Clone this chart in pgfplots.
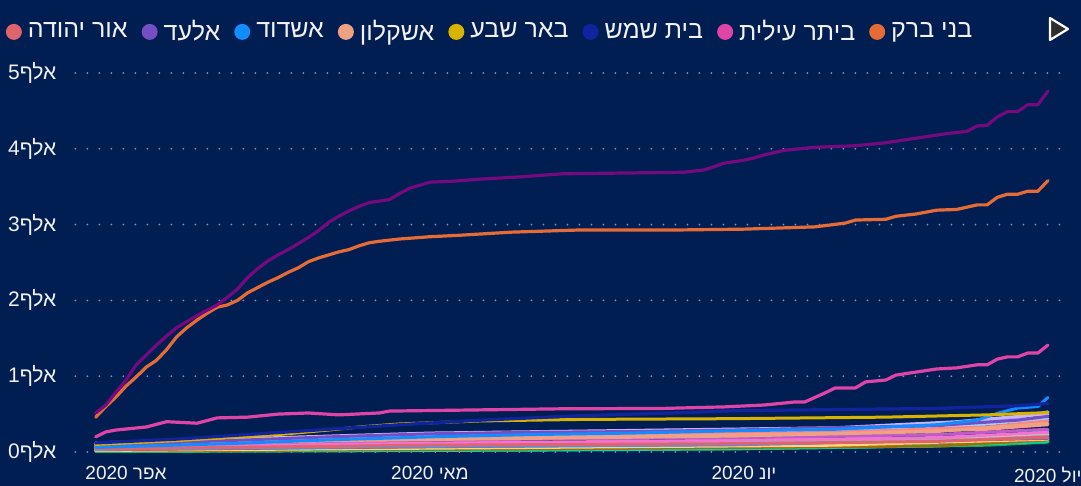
\documentclass[border=0pt]{standalone}
\usepackage{pgfplots}
\pgfplotsset{compat=1.18}
\usepackage{fontspec}
\setmainfont{Liberation Sans}
\newfontfamily\heb[Script=Hebrew]{Liberation Sans}
\TeXXeTstate=1
\newcommand{\R}[1]{{\heb\beginR #1\endR}}
\definecolor{bg}{HTML}{011E52}
\definecolor{gridc}{HTML}{7F8FB0}
\definecolor{txt}{HTML}{F2F2F2}
\definecolor{cJer}{HTML}{740A7E}
\definecolor{cBB}{HTML}{E66C37}
\definecolor{cBI}{HTML}{E044A7}
\definecolor{cBS}{HTML}{12239E}
\definecolor{cBeer}{HTML}{D9B300}
\definecolor{cAsk}{HTML}{EDA283}
\definecolor{cAsd}{HTML}{118DFF}
\definecolor{cEl}{HTML}{744EC2}
\definecolor{cOr}{HTML}{E0646E}
\begin{document}
\begin{tikzpicture}
\fill[bg] (-37.7pt,-13.2pt) rectangle (502.8pt,229.8pt);
\path[use as bounding box] (-37.7pt,-13.2pt) rectangle (502.8pt,229.8pt);
\begin{axis}[
  at={(0,0)}, anchor=south west,
  scale only axis, width=496.4pt, height=197.1pt,
  xmin=-5, xmax=93, ymin=-100, ymax=5100,
  axis line style={draw=none}, tick style={draw=none},
  ymajorgrids, xmajorgrids=false,
  major grid style={draw=gridc, line width=1pt, dash pattern=on 0pt off 6pt, line cap=round},
  ytick={0,1000,2000,3000,4000,5000},
  yticklabels={0\R{אלף},1\R{אלף},2\R{אלף},3\R{אלף},4\R{אלף},5\R{אלף}},
  xtick={0,30,61,91},
  xticklabels={2020 \R{אפר},2020 \R{מאי},2020 \R{יונ},2020 \R{יול}},
  xticklabel style={font=\fontsize{9.5}{11}\selectfont, text=txt},
  yticklabel style={font=\fontsize{10.5}{12}\selectfont, text=txt, xshift=-6pt},
  every axis plot/.append style={line join=round, line cap=round, mark=none},
  legend columns=8,
  legend style={draw=none, fill=none, text=txt, font=\fontsize{12.5}{14}\selectfont,
    at={(axis description cs:0.914,1.085)}, anchor=east,
    /tikz/every even column/.append style={column sep=5pt},
    /tikz/every odd column/.append style={column sep=1pt}},
  legend image code/.code={\fill[#1] (0pt,0pt) circle (4pt);},
]
% background bundle of other towns
\addplot[color={rgb,255:red,91;green,214;blue,103}, line width=1.5pt, forget plot] coordinates {(-3,10) (20,25) (50,40) (70,60) (85,100) (91,150)};
\addplot[color={rgb,255:red,26;green,171;blue,64}, line width=1.5pt, forget plot] coordinates {(-3,5) (30,20) (60,40) (85,90) (91,130)};
\addplot[color={rgb,255:red,0;green,219;blue,188}, line width=1.5pt, forget plot] coordinates {(-3,15) (25,20) (40,25) (60,45) (80,80) (91,140)};
\addplot[color={rgb,255:red,153;green,112;blue,10}, line width=1.5pt, forget plot] coordinates {(-3,15) (40,40) (80,80) (91,160)};
\addplot[color={rgb,255:red,255;green,210;blue,128}, line width=1.5pt, forget plot] coordinates {(-3,20) (40,60) (70,90) (91,170)};
\addplot[color={rgb,255:red,0;green,219;blue,188}, line width=1.5pt, forget plot] coordinates {(-3,30) (20,60) (50,90) (80,150) (91,240)};
\addplot[color={rgb,255:red,214;green,69;blue,80}, line width=1.5pt, forget plot] coordinates {(-3,30) (30,70) (60,100) (91,180)};
\addplot[color={rgb,255:red,64;green,146;blue,255}, line width=1.5pt, forget plot] coordinates {(-3,35) (30,75) (60,95) (91,190)};
\addplot[color={rgb,255:red,21;green,198;blue,244}, line width=1.5pt, forget plot] coordinates {(-3,40) (30,90) (60,120) (85,180) (91,280)};
\addplot[color={rgb,255:red,200;green,200;blue,200}, line width=1.5pt, forget plot] coordinates {(-3,50) (30,110) (60,140) (85,190) (91,230)};
\addplot[color={rgb,255:red,170;green,170;blue,185}, line width=1.5pt, forget plot] coordinates {(-3,45) (30,100) (60,125) (85,170) (91,210)};
\addplot[color={rgb,255:red,244;green,114;blue,208}, line width=1.5pt, forget plot] coordinates {(-3,60) (20,110) (50,140) (80,190) (91,260)};
\addplot[color={rgb,255:red,190;green,93;blue,201}, line width=1.5pt, forget plot] coordinates {(-3,80) (20,140) (40,170) (60,190) (80,230) (91,300)};
\addplot[color={rgb,255:red,160;green,209;blue,255}, line width=1.5pt, forget plot] coordinates {(-3,90) (30,180) (60,250) (80,310) (91,440)};
\addplot[color={rgb,255:red,255;green,128;blue,128}, line width=1.5pt, forget plot] coordinates {(-3,100) (15,170) (30,210) (50,230) (70,260) (85,330) (91,410)};
\addplot[color={rgb,255:red,255;green,150;blue,140}, line width=1.5pt, forget plot] coordinates {(-3,95) (15,160) (30,195) (50,215) (70,245) (85,300) (91,360)};
\addplot[color={rgb,255:red,181;green,161;blue,255}, line width=1.5pt, forget plot] coordinates {(-3,110) (15,180) (30,230) (50,270) (70,300) (82,370) (88,450) (91,530)};
\addplot[color={rgb,255:red,200;green,180;blue,255}, line width=1.5pt, forget plot] coordinates {(-3,120) (15,190) (30,250) (50,285) (70,320) (82,400) (88,470) (91,500)};
% legend towns
\addplot[cOr, line width=1.5pt, forget plot] coordinates {(-3,40) (30,90) (60,110) (80,140) (91,200)};
\addplot[cAsk, line width=1.5pt, forget plot] coordinates {(-3,70) (20,150) (40,180) (60,210) (80,270) (91,380)};
\addplot[cEl, line width=1.5pt, forget plot] coordinates {(-3,90) (10,150) (20,200) (30,240) (40,260) (50,270) (60,290) (70,320) (80,350) (88,420) (91,470)};
\addplot[cAsd, line width=1.5pt, forget plot] coordinates {(-3,60) (10,110) (20,160) (30,200) (40,230) (50,250) (60,280) (70,300) (80,360) (84,420) (86,510) (88,580) (90,600) (91,720)};
\addplot[cBeer, line width=1.5pt, forget plot] coordinates {(-3,100) (5,150) (15,230) (20,290) (23,330) (27,370) (35,410) (45,430) (60,440) (75,460) (85,490) (91,520)};
\addplot[cBS, line width=1.6pt, forget plot] coordinates {(-3,120) (5,170) (12,230) (20,300) (27,360) (35,420) (45,480) (55,520) (60,545) (70,560) (80,575) (88,610) (91,640)};
\addplot[cBI, line width=1.6pt, forget plot] coordinates {(-3,200) (-2,265) (-1,290) (2,330) (4,400) (7,380) (9,450) (12,460) (15,500) (18,515) (21,490) (25,515) (26,540) (43,570) (53,575) (59,595) (63,620) (66,660) (67,660) (69,780) (70,845) (72,845) (73,925) (75,950) (76,1015) (78,1055) (80,1095) (82,1110) (84,1150) (85,1150) (86,1225) (87,1255) (88,1255) (89,1305) (90,1305) (91,1410)};
\addplot[cBB, line width=1.6pt, forget plot] coordinates {(-3,460) (-2,600) (-1,725) (0,870) (1,990) (2,1120) (3,1210) (4,1350) (5,1520) (6,1640) (7,1740) (8,1830) (9,1910) (10,1940) (11,2000) (12,2100) (13,2170) (14,2240) (15,2300) (16,2370) (17,2430) (18,2510) (19,2560) (20,2600) (21,2640) (22,2670) (23,2720) (24,2760) (25,2780) (27,2810) (30,2840) (33,2860) (38,2900) (45,2930) (55,2930) (61,2940) (68,2970) (71,3020) (72,3060) (75,3070) (76,3110) (78,3140) (80,3190) (82,3200) (84,3260) (85,3260) (86,3360) (87,3400) (88,3400) (89,3440) (90,3440) (91,3580)};
\addplot[cJer, line width=1.6pt, forget plot] coordinates {(-3,515) (-2,620) (-1,790) (0,950) (1,1150) (2,1280) (3,1410) (4,1530) (5,1640) (6,1720) (7,1800) (8,1870) (9,1940) (10,2040) (11,2150) (12,2300) (13,2420) (14,2520) (15,2600) (16,2670) (17,2750) (18,2830) (19,2920) (20,3030) (21,3110) (22,3180) (23,3240) (24,3290) (25,3310) (26,3330) (27,3410) (28,3480) (29,3520) (30,3560) (32,3570) (35,3600) (39,3630) (43,3670) (49,3680) (55,3690) (57,3720) (58,3760) (59,3810) (61,3850) (62,3880) (63,3920) (65,3980) (68,4020) (72,4040) (75,4080) (78,4140) (81,4200) (83,4230) (84,4300) (85,4310) (86,4420) (87,4490) (88,4490) (89,4580) (90,4580) (91,4760)};
% legend (right-to-left order)
\addlegendimage{fill=cOr, draw=none}\addlegendentry{\R{אור יהודה}}
\addlegendimage{fill=cEl, draw=none}\addlegendentry{\R{אלעד}}
\addlegendimage{fill=cAsd, draw=none}\addlegendentry{\R{אשדוד}}
\addlegendimage{fill=cAsk, draw=none}\addlegendentry{\R{אשקלון}}
\addlegendimage{fill=cBeer, draw=none}\addlegendentry{\R{באר שבע}}
\addlegendimage{fill=cBS, draw=none}\addlegendentry{\R{בית שמש}}
\addlegendimage{fill=cBI, draw=none}\addlegendentry{\R{ביתר עילית}}
\addlegendimage{fill=cBB, draw=none}\addlegendentry{\R{בני ברק}}
\end{axis}
\draw[white, line width=1.1pt, fill={rgb,255:red,45;green,45;blue,45}, line join=round] (487.3pt,220.8pt) -- (487.3pt,209.8pt) -- (496.3pt,215.3pt) -- cycle;
\end{tikzpicture}
\end{document}
